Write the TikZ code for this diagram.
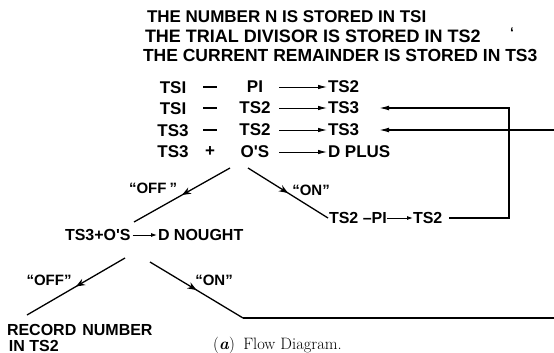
\documentclass[tikz,border=0pt]{standalone}
\usepackage{fontspec}
\newfontfamily\gf{Liberation Sans}
\usetikzlibrary{arrows.meta,decorations.markings,calc}
\newcommand{\rowdash}{\rule[5.2pt]{14pt}{1.6pt}}
\tikzset{
  g/.style={font=\gf\bfseries\fontsize{16}{16}\selectfont, inner sep=0pt, outer sep=0pt},
  hdr/.style={g, anchor=west},
  rowtxt/.style={g, font=\gf\bfseries\fontsize{17}{17}\selectfont},
  midcol/.style={rowtxt, minimum width=34pt},
  lbl/.style={g, font=\gf\bfseries\fontsize{15}{15}\selectfont},
  rowarr/.style={line width=0.9pt, -{Latex[length=9pt,width=4.5pt]}},
  retarr/.style={line width=1.3pt, -{Latex[length=10pt,width=5pt]}},
  smallarr/.style={line width=0.9pt, -{Latex[length=6pt,width=4pt]}},
  diag/.style={line width=1.3pt},
  midarrow/.style={postaction={decorate}, decoration={markings,
     mark=at position 0.5 with {\arrow{Stealth[length=9pt,width=7pt,inset=3pt]}}}},
  captxt/.style={font=\fontsize{16.5}{16.5}\selectfont, inner sep=0pt, anchor=west}
}
\begin{document}
\begin{tikzpicture}[x=1pt,y=-1pt]
\useasboundingbox (0,0) rectangle (554,353);
% header
\node[hdr, font=\gf\bfseries\fontsize{17}{17}\selectfont] (h1) at (147,17) {THE NUMBER N IS STORED IN TSI};
\node[hdr, font=\gf\bfseries\fontsize{18}{18}\selectfont] (h2) at (145,36) {THE TRIAL DIVISOR IS STORED IN TS2};
\node[hdr, font=\gf\bfseries\fontsize{17.5}{17.5}\selectfont] (h3) at (143,55) {THE CURRENT REMAINDER IS STORED IN TS3};
\node[g, font=\gf\bfseries\fontsize{14}{14}\selectfont] (tick) at (512,33) {‘};
% rows
\node[rowtxt, anchor=base] (r1a) at (173,93) {TSI};
\node[rowtxt, anchor=base] (r1b) at (210,93) {\rowdash};
\node[midcol] (r1c) at (255,87) {PI};
\node[rowtxt, anchor=west] (r1d) at (328,87) {TS2};
\node[rowtxt, anchor=base] (r2a) at (173,114) {TSI};
\node[rowtxt, anchor=base] (r2b) at (210,114) {\rowdash};
\node[midcol] (r2c) at (255,108) {TS2};
\node[rowtxt, anchor=west] (r2d) at (328,108) {TS3};
\node[rowtxt, anchor=base] (r3a) at (173,136) {TS3};
\node[rowtxt, anchor=base] (r3b) at (210,136) {\rowdash};
\node[midcol] (r3c) at (255,130) {TS2};
\node[rowtxt, anchor=west] (r3d) at (328,130) {TS3};
\node[rowtxt] (r4a) at (173,152) {TS3};
\node[rowtxt] (r4b) at (210,152) {+};
\node[midcol] (r4c) at (255,152) {O'S};
\node[rowtxt, anchor=west] (r4d) at (328,152) {D PLUS};
\draw[rowarr] ([xshift=7pt]r1c.east) -- ([xshift=-1pt]r1d.west);
\draw[rowarr] ([xshift=7pt]r2c.east) -- ([xshift=-1pt]r2d.west);
\draw[rowarr] ([xshift=7pt]r3c.east) -- ([xshift=-1pt]r3d.west);
\draw[rowarr] ([xshift=7pt]r4c.east) -- ([xshift=-1pt]r4d.west);
% second level
\node[g, anchor=west] (t2a) at (329,218) {TS2 –PI};
\node[g, anchor=west] (t2b) at (413,218) {TS2};
\draw[smallarr] (t2a.east) -- (t2b.west);
\node[g, anchor=west] (n3a) at (65,235) {TS3+O'S};
\node[g, anchor=west] (n3b) at (158,235) {D NOUGHT};
\draw[smallarr] ([xshift=2pt]n3a.east) -- ([xshift=-1pt]n3b.west);
% bottom
\node[g, anchor=west] (rec1) at (7,330) {RECORD\hspace{6pt}NUMBER};
\node[g, anchor=west] (rec2) at (9,345.5) {IN TS2};
\node[captxt] (capt) at (213,345.5) {(\textit{\textbf{a}})\enspace Flow Diagram.};
% labels
\node[lbl] (off1) at (153,188) {“OFF\hspace{3pt}”};
\node[lbl] (on1) at (311,190) {“ON”};
\node[lbl] (off2) at (49,280) {“OFF”};
\node[lbl] (on2) at (214,280) {“ON”};
% connector points
\coordinate (s1) at (230,168);
\coordinate (e1) at (134,222);
\coordinate (s2) at (248,168);
\coordinate (s3) at (125,258);
\coordinate (e3) at (27,315);
\coordinate (s4) at (150,262);
\coordinate (c4) at (243,318);
\coordinate (e4) at (554,318);
\coordinate (c2) at (509,108);
\coordinate (e5) at (554,130);
% connectors
\draw[diag, midarrow] (s1) -- (e1);
\draw[diag, midarrow] (s2) -- ([xshift=-1pt]t2a.west);
\draw[diag, midarrow] (s3) -- (e3);
\draw[diag, midarrow] (s4) -- (c4);
\draw[diag] (c4) -- (e4);
\draw[retarr] ([xshift=7pt]t2b.east) -| (c2) -- ([xshift=20pt]r2d.east);
\draw[retarr] (e5) -- ([xshift=20pt]r3d.east);
\end{tikzpicture}
\end{document}
